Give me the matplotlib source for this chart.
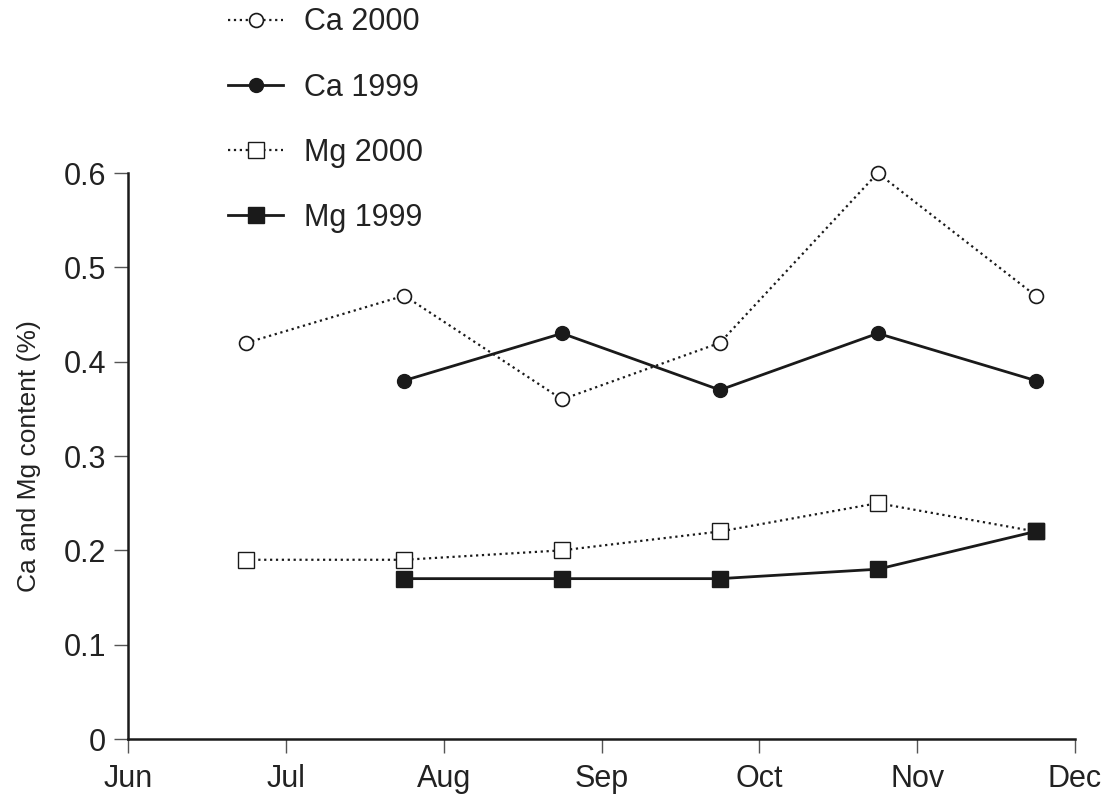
#!/usr/bin/env python3
# Ca and Mg content by month, 1999 vs 2000

import matplotlib.pyplot as plt

plt.rcParams['font.family'] = ['Liberation Sans', 'DejaVu Sans']

# Data (x = month index from Jun, sampled near month end)
month_labels = ['Jun', 'Jul', 'Aug', 'Sep', 'Oct', 'Nov', 'Dec']
x_2000 = [0.75, 1.75, 2.75, 3.75, 4.75, 5.75]
x_1999 = [1.75, 2.75, 3.75, 4.75, 5.75]
ca_2000 = [0.42, 0.47, 0.36, 0.42, 0.60, 0.47]
ca_1999 = [0.38, 0.43, 0.37, 0.43, 0.38]
mg_2000 = [0.19, 0.19, 0.20, 0.22, 0.25, 0.22]
mg_1999 = [0.17, 0.17, 0.17, 0.18, 0.22]

fig = plt.figure(figsize=(11.14, 8.01), dpi=100)
ax = fig.add_axes([0.115, 0.0774, 0.85, 0.7066])

col = '#1a1a1a'
ax.plot(x_2000, ca_2000, linestyle=':', color=col, lw=1.6, marker='o',
        ms=10, mfc='white', mec=col, mew=1.2, label='Ca 2000', clip_on=False)
ax.plot(x_1999, ca_1999, linestyle='-', color=col, lw=2, marker='o',
        ms=10, mfc=col, mec=col, label='Ca 1999', clip_on=False)
ax.plot(x_2000, mg_2000, linestyle=':', color=col, lw=1.6, marker='s',
        ms=11, mfc='white', mec=col, mew=1.0, label='Mg 2000', clip_on=False)
ax.plot(x_1999, mg_1999, linestyle='-', color=col, lw=2, marker='s',
        ms=11, mfc=col, mec=col, label='Mg 1999', clip_on=False)

ax.set_xlim(0, 6)
ax.set_ylim(0, 0.6)
ax.set_xticks(range(len(month_labels)))
ax.set_xticklabels(month_labels)
ax.set_yticks([0, 0.1, 0.2, 0.3, 0.4, 0.5, 0.6])
ax.set_yticklabels(['0', '0.1', '0.2', '0.3', '0.4', '0.5', '0.6'])
ax.tick_params(axis='both', labelsize=22, length=10, width=1, color='#555555',
               colors='#222222')
ax.tick_params(axis='x', pad=8)
ax.tick_params(axis='y', pad=6)
ax.set_ylabel('Ca and Mg content (%)', fontsize=19, color='#222222', labelpad=16)

for s in ['top', 'right']:
    ax.spines[s].set_visible(False)
for s in ['left', 'bottom']:
    ax.spines[s].set_linewidth(1.8)
    ax.spines[s].set_color(col)

leg = fig.legend(loc='upper left', bbox_to_anchor=(0.18, 1.025), frameon=False,
                 fontsize=22, handlelength=1.8, labelspacing=1.15,
                 handletextpad=0.7)
for t in leg.get_texts():
    t.set_color('#222222')

fig.savefig('out.png', dpi=100)
